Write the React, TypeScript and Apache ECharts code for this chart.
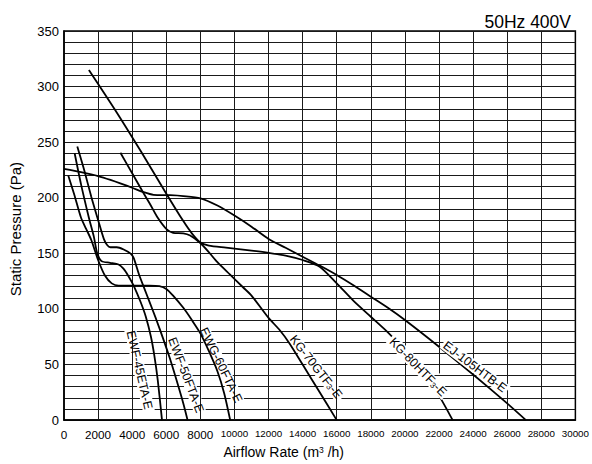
import { useEffect, useRef } from 'react';
import * as echarts from 'echarts';

const FONT = "'Liberation Sans', Arial, Helvetica, sans-serif";

// Fan curves: [airflow m3/h, static pressure Pa]
const ewf45: number[][] = [[625,240],[1000,212],[1460,182],[1750,165],[1950,150],[2200,143],[2700,141.5],[3200,140],[3500,136],[3800,129],[4085,121],[4500,106],[4800,93],[5100,75],[5300,58],[5500,36],[5750,0]];
const ewf50: number[][] = [[780,246],[1200,224],[1600,201],[2000,180],[2335,163],[2530,157.5],[2725,155.5],[3100,155.5],[3500,153.5],[3890,150],[4085,146],[4400,131],[4700,119],[5000,107],[5400,91],[5800,74],[6200,56],[6600,36],[7000,15],[7250,0]];
const ewg60: number[][] = [[250,220],[600,203],[1000,182],[1300,172],[1600,162],[2000,144],[2400,130],[2800,123],[3200,121],[4000,121],[5000,121],[5600,120.5],[6000,118],[6400,112],[7000,101],[7500,90],[8000,78],[8500,62],[9000,44],[9400,24],[9750,0]];
const kg70: number[][] = [[3310,240.5],[4000,222],[4670,204],[5060,194],[5500,182],[6030,171.5],[6400,168.5],[7000,168],[7400,166],[7980,159.5],[8500,151],[9000,142],[9730,131],[10500,119.5],[11000,112],[12000,92],[12650,81],[13230,69],[14000,50],[15000,25],[16000,0]];
const kg80: number[][] = [[1460,315],[3000,279],[4500,242],[6030,203],[7000,179],[7500,168],[7980,160],[8500,157],[9500,155.2],[11000,152.5],[12000,150.5],[13000,148],[14000,144],[15000,138],[16000,123],[17000,107],[18000,93],[19000,79],[20000,63],[21000,45],[22000,22],[22800,0]];
const ej105: number[][] = [[0,226],[1000,223],[2000,219.5],[2725,216],[4000,209],[4670,205],[5250,202.6],[6230,202.3],[7000,201.5],[8000,199.5],[9000,193],[10000,184],[11000,174],[12000,163],[13000,155],[14000,147],[15000,139],[16000,130.5],[17000,121],[18000,111],[19000,101],[20000,90],[22000,66],[24000,41],[26000,15],[27100,0]];

const seriesNames = ['EWF-45ETA-E', 'EWF-50FTA-E', 'EWG-60FTA-E', 'KG-70GTF3-E', 'KG-80HTF3-E', 'EJ-105HTB-E'];
const seriesData = [ewf45, ewf50, ewg60, kg70, kg80, ej105];

// vertical grid lines (every 2000) and where two of them stop above the labels
const xGridTicks = [2000, 4000, 6000, 8000, 10000, 12000, 14000, 16000, 18000, 20000, 22000, 24000, 26000, 28000];
const xGridBottoms: Record<number, number> = { 14000: 81, 22000: 42 };

// Curve labels (rich text for the subscript 3)
const labelTexts = [
  '{n|EWF-45ETA-E}',
  '{n|EWF-50FTA-E}',
  '{n|EWG-60FTA-E}',
  '{n|KG-70GTF}{s|3}{n|-E}',
  '{n|KG-80HTF}{s|3}{n|-E}',
  '{n|EJ-105HTB-E}',
];
const labelPlaces = [
  { x: 139.5, y: 370, angle: 77, inline: false },
  { x: 186, y: 375, angle: 69, inline: false },
  { x: 221, y: 365, angle: 64, inline: false },
  { x: 316, y: 367, angle: 52, inline: false },
  { x: 418, y: 367, angle: 46, inline: true },
  { x: 475, y: 367, angle: 37, inline: true },
];

const richFor = (fill: string) => ({
  n: { fontSize: 12.3, fill, fontFamily: FONT },
  s: { fontSize: 8, fill, fontFamily: FONT, verticalAlign: 'bottom' },
});

export default function App() {
  const ref = useRef<HTMLDivElement>(null);
  useEffect(() => {
    const chart = echarts.init(ref.current!, null, { renderer: 'svg' });
    const gridLine = { color: '#1a1a1a', width: 1 };
    const labelEls: any[] = [];
    labelTexts.forEach((t, i) => {
      const p = labelPlaces[i];
      const base = {
        type: 'text',
        x: p.x,
        y: p.y,
        rotation: (-p.angle * Math.PI) / 180,
        silent: true,
      };
      if (p.inline) {
        labelEls.push({
          ...base,
          z: 100,
          style: { text: t, align: 'center', verticalAlign: 'middle', backgroundColor: '#fff', padding: [0, 2], rich: richFor('#000') },
        });
      } else {
        labelEls.push({
          ...base,
          z: 2,
          style: { text: t, align: 'center', verticalAlign: 'middle', backgroundColor: '#fff', padding: [0, 2], rich: richFor('rgba(0,0,0,0)') },
        });
        labelEls.push({
          ...base,
          z: 100,
          style: { text: t, align: 'center', verticalAlign: 'middle', padding: [0, 2], rich: richFor('#000') },
        });
      }
    });

    chart.setOption({
      animation: false,
      backgroundColor: '#fff',
      textStyle: { fontFamily: FONT },
      title: {
        text: '50Hz 400V',
        right: 16,
        top: 8,
        textStyle: { fontSize: 17.5, fontWeight: 'normal', color: '#000', fontFamily: FONT },
      },
      grid: { left: 63, right: 14, top: 31, bottom: 40, show: true, borderColor: '#000', borderWidth: 1.5 },
      xAxis: {
        type: 'value',
        min: 0,
        max: 30000,
        interval: 2000,
        axisLine: { show: true, lineStyle: { color: '#000', width: 1.5 } },
        axisTick: { show: false },
        axisLabel: {
          margin: 8,
          fontSize: 11.7,
          color: '#000',
          fontFamily: FONT,
          formatter: (v: number) => (v >= 10000 ? `{s|${v}}` : `${v}`),
          rich: { s: { fontSize: 9.8, color: '#000', fontFamily: FONT } },
        },
        splitLine: { show: false },
        name: 'Airflow Rate (m{sup|3} /h)',
        nameLocation: 'middle',
        nameGap: 21,
        nameTextStyle: {
          fontSize: 14,
          color: '#000',
          fontFamily: FONT,
          padding: [0, 72, 0, 0],
          rich: { sup: { fontSize: 8.5, color: '#000', verticalAlign: 'top', fontFamily: FONT } },
        },
      },
      yAxis: {
        type: 'value',
        min: 0,
        max: 350,
        interval: 50,
        axisLine: { show: true, lineStyle: { color: '#000', width: 1.5 } },
        axisTick: { show: false },
        minorTick: { show: false, splitNumber: 5 },
        minorSplitLine: { show: true, lineStyle: gridLine },
        splitLine: { show: true, lineStyle: gridLine },
        axisLabel: { margin: 5, fontSize: 13, color: '#000', fontFamily: FONT },
        name: 'Static Pressure (Pa)',
        nameLocation: 'middle',
        nameGap: 41,
        nameTextStyle: { fontSize: 15, color: '#000', fontFamily: FONT, padding: [0, 7, 0, 0] },
      },
      series: [
        {
          name: 'grid',
          type: 'line',
          data: [[0, 0]],
          showSymbol: false,
          lineStyle: { width: 0 },
          z: 1,
          silent: true,
          markLine: {
            silent: true,
            symbol: ['none', 'none'],
            label: { show: false },
            lineStyle: { color: '#1a1a1a', width: 1, type: 'solid' },
            emphasis: { disabled: true },
            data: xGridTicks.map((x) => [
              { coord: [x, xGridBottoms[x] ?? 0] },
              { coord: [x, 350] },
            ]),
          },
        },
        ...seriesData.map((d, i) => ({
          name: seriesNames[i],
          type: 'line',
          data: d,
          showSymbol: false,
          smooth: 0.25,
          lineStyle: { color: '#000', width: 1.8 },
          z: 5,
        })),
      ],
      graphic: labelEls,
    });
    return () => chart.dispose();
  }, []);
  return <div ref={ref} style={{ position: 'fixed', left: 0, top: 0, width: 592, height: 464 }} />;
}
